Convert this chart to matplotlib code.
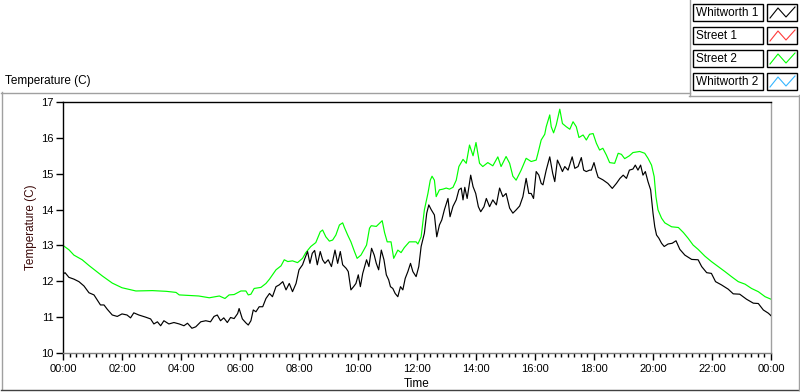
import matplotlib
matplotlib.use("Agg")
import matplotlib.pyplot as plt
from matplotlib.ticker import MultipleLocator, FuncFormatter
from matplotlib.lines import Line2D
from matplotlib.patches import Rectangle

plt.rcParams['font.family'] = ['Liberation Sans', 'DejaVu Sans']

# ---------------- data ----------------
series_names = ["Whitworth 1", "Street 1", "Street 2", "Whitworth 2"]
series_colors = ["#000000", "#ff3a3a", "#00ff00", "#33b5ff"]

street2_hours = [0.0, 0.2, 0.37, 0.65, 0.88, 1.1, 1.33, 1.67, 2.0, 2.47, 3.03, 3.5, 3.83, 3.94,
                 4.6, 4.96, 5.3, 5.49, 5.63, 5.8, 6.03, 6.2, 6.28, 6.37, 6.48, 6.71, 6.88, 7.0,
                 7.1, 7.22, 7.39, 7.5, 7.62, 7.78, 7.95, 8.12, 8.23, 8.4, 8.57, 8.72, 8.8, 8.91,
                 9.03, 9.14, 9.25, 9.37, 9.48, 9.54, 9.65, 9.76, 9.88, 9.97, 10.1, 10.29, 10.39,
                 10.45, 10.62, 10.73, 10.82, 10.9, 10.99, 11.12, 11.21, 11.35, 11.46, 11.57,
                 11.74, 11.97, 12.03, 12.14, 12.25, 12.37, 12.45, 12.51, 12.59, 12.65, 12.76,
                 12.88, 12.99, 13.1, 13.22, 13.33, 13.42, 13.56, 13.67, 13.78, 13.9, 14.0,
                 14.12, 14.23, 14.4, 14.57, 14.74, 14.85, 15.02, 15.14, 15.25, 15.36, 15.53,
                 15.7, 15.87, 16.04, 16.1, 16.21, 16.33, 16.38, 16.5, 16.55, 16.63, 16.72,
                 16.84, 16.93, 17.06, 17.18, 17.29, 17.4, 17.49, 17.63, 17.74, 17.85, 17.97,
                 18.08, 18.19, 18.3, 18.42, 18.53, 18.7, 18.82, 18.93, 19.04, 19.2, 19.32,
                 19.55, 19.72, 19.83, 19.95, 20.04, 20.1, 20.17, 20.29, 20.4, 20.63, 20.86,
                 21.03, 21.19, 21.36, 21.53, 21.76, 21.98, 22.21, 22.44, 22.66, 22.89, 23.12,
                 23.34, 23.57, 23.8, 24.0]
street2_temp = [13.0, 12.88, 12.73, 12.6, 12.44, 12.3, 12.15, 11.95, 11.82, 11.73, 11.74, 11.72,
                11.69, 11.62, 11.59, 11.54, 11.59, 11.52, 11.62, 11.63, 11.73, 11.73, 11.62,
                11.64, 11.8, 11.83, 11.94, 12.06, 12.18, 12.32, 12.43, 12.6, 12.55, 12.57,
                12.52, 12.64, 12.8, 12.97, 13.08, 13.38, 13.43, 13.24, 13.12, 13.15, 13.29,
                13.57, 13.63, 13.5, 13.29, 13.1, 12.83, 12.64, 12.73, 13.01, 13.48, 13.55,
                13.53, 13.62, 13.69, 13.36, 13.1, 13.1, 12.64, 12.87, 12.8, 12.94, 13.1, 13.1,
                13.04, 13.24, 13.99, 14.45, 14.82, 14.93, 14.82, 14.36, 14.55, 14.57, 14.6,
                14.57, 14.62, 14.82, 15.2, 15.4, 15.29, 15.8, 15.5, 15.87, 15.29, 15.2, 15.31,
                15.22, 15.47, 15.2, 15.48, 15.29, 14.93, 14.82, 15.1, 15.43, 15.34, 15.38,
                15.57, 15.94, 16.1, 16.31, 16.64, 16.31, 16.14, 16.36, 16.8, 16.4, 16.31,
                16.24, 16.45, 16.31, 16.01, 16.08, 15.94, 16.1, 16.12, 15.85, 15.66, 15.71,
                15.52, 15.31, 15.29, 15.57, 15.54, 15.42, 15.5, 15.59, 15.62, 15.57, 15.43,
                15.24, 14.92, 14.36, 13.99, 13.76, 13.63, 13.52, 13.5, 13.36, 13.2, 13.01,
                12.89, 12.7, 12.55, 12.41, 12.27, 12.13, 11.99, 11.92, 11.8, 11.71, 11.57, 11.5]

whitworth1_hours = [0.0, 0.07, 0.2, 0.37, 0.54, 0.71, 0.88, 1.05, 1.16, 1.27, 1.39, 1.5, 1.67,
                    1.84, 2.0, 2.17, 2.29, 2.4, 2.57, 2.8, 2.97, 3.08, 3.2, 3.31, 3.42, 3.59,
                    3.76, 3.94, 4.1, 4.22, 4.37, 4.5, 4.67, 4.84, 5.0, 5.12, 5.23, 5.34, 5.45,
                    5.57, 5.68, 5.8, 5.92, 5.97, 6.08, 6.2, 6.28, 6.37, 6.45, 6.54, 6.65, 6.77,
                    6.88, 7.0, 7.1, 7.22, 7.33, 7.45, 7.56, 7.67, 7.78, 7.9, 8.0, 8.12, 8.2,
                    8.29, 8.37, 8.45, 8.53, 8.62, 8.72, 8.8, 8.88, 8.99, 9.1, 9.22, 9.31, 9.4,
                    9.48, 9.6, 9.67, 9.76, 9.85, 9.93, 10.01, 10.08, 10.16, 10.29, 10.37, 10.46,
                    10.55, 10.62, 10.7, 10.79, 10.88, 10.96, 11.04, 11.1, 11.18, 11.26, 11.35,
                    11.44, 11.52, 11.6, 11.69, 11.78, 11.86, 11.97, 12.06, 12.14, 12.25, 12.33,
                    12.4, 12.48, 12.59, 12.67, 12.76, 12.84, 12.93, 13.05, 13.12, 13.22, 13.33,
                    13.42, 13.5, 13.56, 13.62, 13.7, 13.82, 13.9, 13.99, 14.08, 14.16, 14.27,
                    14.35, 14.46, 14.57, 14.69, 14.8, 14.91, 15.02, 15.14, 15.25, 15.36, 15.48,
                    15.59, 15.7, 15.79, 15.87, 15.95, 16.04, 16.13, 16.21, 16.27, 16.38, 16.5,
                    16.6, 16.67, 16.76, 16.84, 16.93, 17.01, 17.12, 17.26, 17.35, 17.46, 17.57,
                    17.65, 17.74, 17.85, 17.91, 18.0, 18.08, 18.14, 18.3, 18.47, 18.62, 18.76,
                    18.88, 18.99, 19.1, 19.2, 19.32, 19.4, 19.49, 19.58, 19.66, 19.74, 19.83,
                    19.92, 20.0, 20.06, 20.12, 20.2, 20.29, 20.38, 20.51, 20.65, 20.78, 20.91,
                    21.08, 21.31, 21.53, 21.65, 21.82, 21.98, 22.12, 22.32, 22.55, 22.72, 22.94,
                    23.17, 23.4, 23.57, 23.74, 23.91, 24.0]
whitworth1_temp = [12.2, 12.24, 12.11, 12.06, 11.99, 11.87, 11.68, 11.62, 11.48, 11.34, 11.34,
                   11.22, 11.06, 11.02, 11.09, 11.06, 10.98, 11.12, 11.06, 11.0, 10.95, 10.81,
                   10.87, 10.76, 10.9, 10.81, 10.85, 10.81, 10.76, 10.83, 10.69, 10.73, 10.87,
                   10.9, 10.87, 11.02, 11.06, 10.9, 10.98, 10.85, 10.99, 10.96, 11.1, 11.24,
                   10.95, 10.84, 10.78, 10.9, 11.2, 11.15, 11.29, 11.29, 11.52, 11.66, 11.57,
                   11.85, 11.9, 11.99, 11.76, 11.94, 11.71, 11.94, 12.32, 12.46, 12.64, 12.83,
                   12.5, 12.78, 12.86, 12.46, 12.83, 12.6, 12.5, 12.6, 12.41, 12.87, 12.5, 12.83,
                   12.46, 12.36, 12.27, 11.76, 11.85, 11.94, 12.18, 11.85, 12.22, 12.6, 12.41,
                   12.92, 12.73, 12.5, 12.32, 12.87, 12.6, 12.18, 12.04, 11.85, 11.8, 11.66,
                   11.57, 11.85, 11.76, 12.08, 12.27, 12.5, 12.27, 12.13, 12.41, 12.97, 13.34,
                   13.9, 14.13, 14.0, 13.85, 13.24, 13.57, 13.71, 14.0, 14.31, 13.8, 14.09,
                   14.27, 14.55, 14.6, 14.27, 14.62, 14.31, 14.96, 14.64, 14.45, 14.08, 13.94,
                   14.08, 14.31, 14.08, 14.27, 14.13, 14.6, 14.36, 14.45, 14.04, 13.9, 13.99,
                   14.1, 14.36, 14.87, 14.45, 14.45, 14.31, 15.06, 14.96, 14.73, 14.69, 15.1,
                   15.47, 15.01, 14.78, 15.38, 15.24, 15.06, 15.2, 15.1, 15.47, 15.15, 15.2,
                   15.45, 15.1, 15.06, 15.1, 15.1, 15.31, 15.06, 14.9, 14.83, 14.73, 14.59,
                   14.73, 14.87, 14.96, 14.87, 15.1, 15.13, 15.24, 15.1, 15.24, 14.96, 15.06,
                   14.78, 14.55, 13.9, 13.52, 13.29, 13.2, 13.06, 12.97, 13.04, 13.06, 13.13,
                   12.89, 12.73, 12.61, 12.6, 12.41, 12.24, 12.22, 11.99, 11.9, 11.78, 11.65,
                   11.64, 11.5, 11.39, 11.38, 11.2, 11.11, 11.04]

x_ticks = list(range(0, 25, 2))
y_ticks = [10, 11, 12, 13, 14, 15, 16, 17]
title_text = "Temperature (C)"
y_label = "Temperature (C)"
x_label = "Time"

# ---------------- figure ----------------
W, H = 800, 392
fig = plt.figure(figsize=(W / 100, H / 100), dpi=100)
fig.patch.set_facecolor("white")

# overlay in pixel coordinates for panel decoration
deco = fig.add_axes([0, 0, 1, 1], zorder=0)
deco.set_xlim(0, W)
deco.set_ylim(H, 0)
deco.axis("off")

def hline(x0, x1, y, c, lw=1.0):
    deco.add_line(Line2D([x0, x1], [y, y], color=c, lw=lw))

def vline(x, y0, y1, c, lw=1.0):
    deco.add_line(Line2D([x, x], [y0, y1], color=c, lw=lw))

# main panel border
hline(1, 690, 92.5, "#a0a0a0")
vline(1.5, 92, 389, "#a0a0a0")
hline(1, 799, 389.5, "#404040")
vline(798.5, 95, 390, "#a0a0a0")
# legend panel border
vline(689.5, 0, 95.5, "#a0a0a0")
hline(689, 800, 95.5, "#a0a0a0")

# title
deco.text(5, 81, title_text, fontsize=8.5, ha="left", va="center", color="#000000")

# legend
for i, (name, col) in enumerate(zip(series_names, series_colors)):
    y0 = 4 + i * 23
    deco.add_patch(Rectangle((693, y0), 70, 17, fill=False, ec="#000000", lw=1.0))
    deco.add_patch(Rectangle((767, y0), 30, 17, fill=False, ec="#000000", lw=1.0))
    deco.text(696, y0 + 8.5, name, fontsize=8.5, ha="left", va="center", color="#000000")
    deco.add_line(Line2D([770, 778, 786, 795], [y0 + 14, y0 + 4, y0 + 13, y0 + 3],
                         color=col, lw=0.8))

# plot area
ax = fig.add_axes([63 / W, (H - 353) / H, 708 / W, 251 / H], zorder=1)
ax.plot(whitworth1_hours, whitworth1_temp, color=series_colors[0], lw=0.85, zorder=3)
ax.plot(street2_hours, street2_temp, color=series_colors[2], lw=0.85, zorder=2)

ax.set_xlim(0, 24)
ax.set_ylim(10, 17)
ax.set_xticks(x_ticks)
ax.xaxis.set_minor_locator(MultipleLocator(2 / 9))
ax.xaxis.set_major_formatter(FuncFormatter(lambda v, p: "%02d:00" % (int(round(v)) % 24)))
ax.set_yticks(y_ticks)
ax.tick_params(axis="x", which="major", length=5, width=1, direction="out", labelsize=8, pad=3)
ax.tick_params(axis="x", which="minor", length=3, width=1, direction="out")
ax.tick_params(axis="y", which="major", length=5, width=1, direction="out", labelsize=8, pad=2)

for side, c in (("left", "#000000"), ("top", "#000000"), ("bottom", "#808080"), ("right", "#a0a0a0")):
    ax.spines[side].set_color(c)
    ax.spines[side].set_linewidth(1.0)

ax.set_xlabel(x_label, fontsize=8.5, labelpad=3)
ax.set_ylabel(y_label, fontsize=8.5, color="#3a0808", labelpad=3)

fig.savefig("out.png", dpi=100, facecolor="white")
